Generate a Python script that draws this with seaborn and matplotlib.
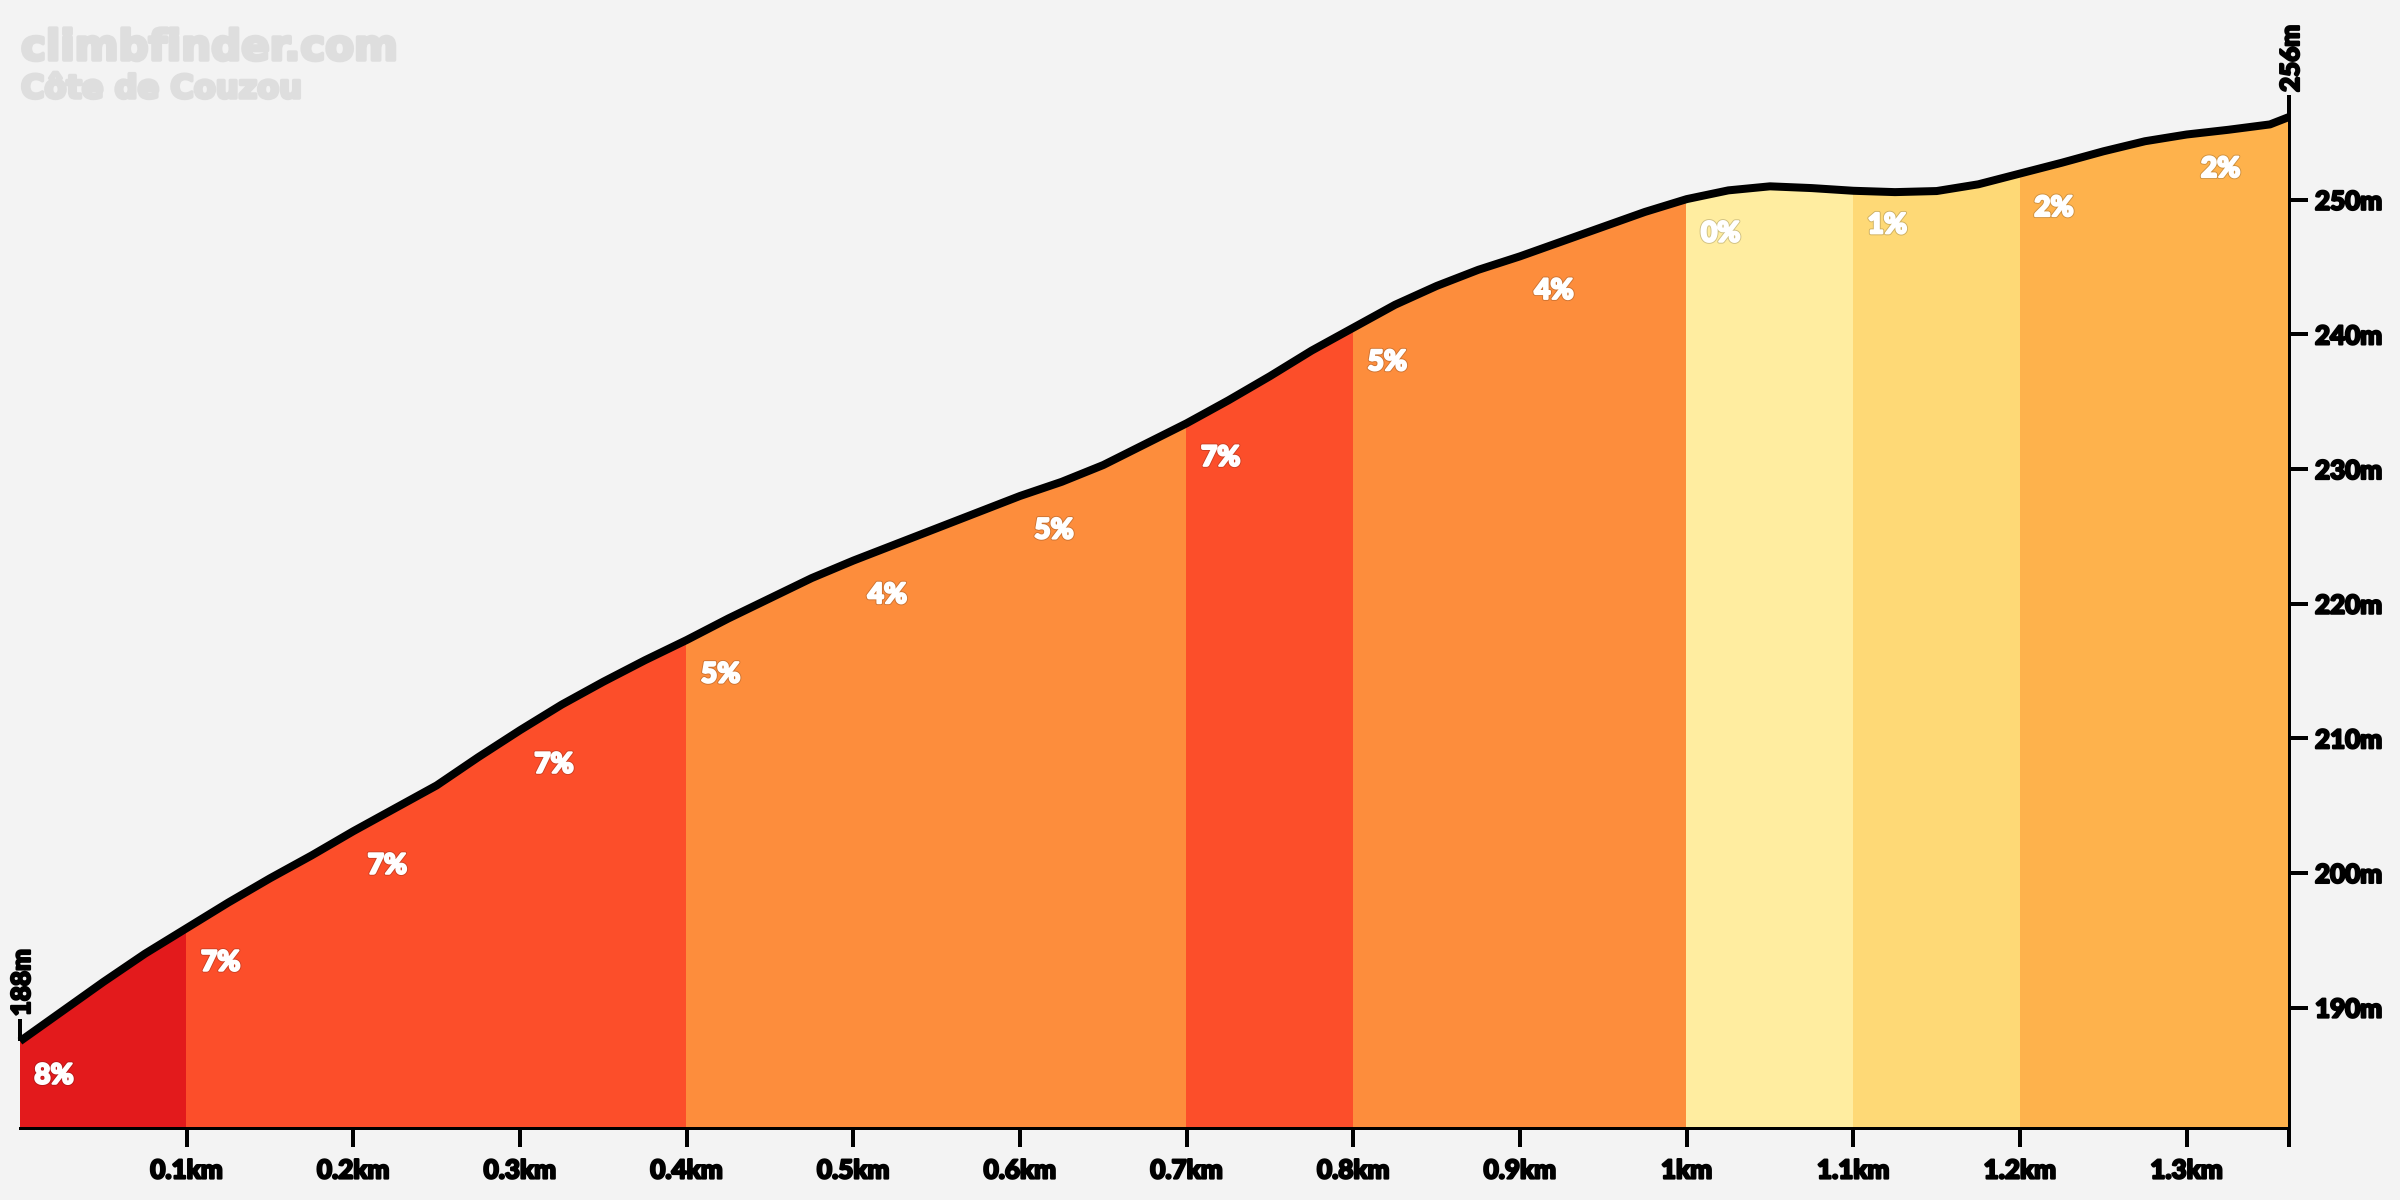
import numpy as np
import seaborn as sns
from matplotlib import pyplot as plt
from matplotlib import patheffects as pe

distance = [0, 0.025, 0.05, 0.075, 0.1, 0.125, 0.15, 0.175, 0.2, 0.225, 0.25, 0.275, 0.3, 0.325, 0.35, 0.375, 0.4,
            0.425, 0.45, 0.475, 0.5, 0.525, 0.55, 0.575, 0.6, 0.625, 0.65, 0.675, 0.7, 0.725, 0.75, 0.775, 0.8,
            0.825, 0.85, 0.875, 0.9, 0.925, 0.95, 0.975, 1.0, 1.025, 1.05, 1.075, 1.1, 1.125, 1.15, 1.175, 1.2,
            1.225, 1.25, 1.275, 1.3, 1.325, 1.35, 1.3614]
elevation = [187.5, 189.7, 191.9, 194.0, 195.9, 197.8, 199.6, 201.3, 203.1, 204.8, 206.5, 208.6, 210.6, 212.5, 214.2,
             215.8, 217.3, 218.9, 220.4, 221.9, 223.2, 224.4, 225.6, 226.8, 228.0, 229.05, 230.3, 231.85, 233.4,
             235.1, 236.9, 238.8, 240.5, 242.2, 243.6, 244.8, 245.8, 246.9, 248.0, 249.1, 250.05, 250.7, 251.0,
             250.87, 250.67, 250.57, 250.65, 251.15, 251.95, 252.75, 253.6, 254.35, 254.85, 255.2, 255.6, 256.15]

segment_edges = [0, 0.1, 0.2, 0.3, 0.4, 0.5, 0.6, 0.7, 0.8, 0.9, 1.0, 1.1, 1.2, 1.3, 1.3614]
gradients = [8, 7, 7, 7, 5, 4, 5, 7, 5, 4, 0, 1, 2, 2]
gradient_colors = {8: '#e31a1c', 7: '#fc4e2a', 5: '#fd8d3c', 4: '#fd8d3c', 2: '#feb24c', 1: '#fed976', 0: '#ffeda0'}

x_ticks = [0.1, 0.2, 0.3, 0.4, 0.5, 0.6, 0.7, 0.8, 0.9, 1.0, 1.1, 1.2, 1.3, 1.3614]
x_labels = ['0.1km', '0.2km', '0.3km', '0.4km', '0.5km', '0.6km', '0.7km', '0.8km', '0.9km', '1km', '1.1km', '1.2km',
            '1.3km', '']
y_ticks = [190, 200, 210, 220, 230, 240, 250]
y_labels = ['190m', '200m', '210m', '220m', '230m', '240m', '250m']
start_label = '188m'
end_label = '256m'
site_name = 'climbfinder.com'
climb_name = 'Côte de Couzou'

BG = '#f3f3f3'
FONT = 'Lato'
W, H = 2400, 1200


def px(p):
    return p * 72 / 200


sns.set_theme(style='white', rc={'axes.facecolor': BG, 'figure.facecolor': BG, 'font.family': FONT})

distance = np.array(distance)
elevation = np.array(elevation)

fig = plt.figure(figsize=(12, 6))
ax = fig.add_axes([20 / W, 1 - 1127.5 / H, (2289 - 20) / W, (1127.5 - 117) / H])

for i, grade in enumerate(gradients):
    mask = (distance >= segment_edges[i]) & (distance <= segment_edges[i + 1])
    ax.fill_between(distance[mask], elevation[mask], -1000, color=gradient_colors[grade], linewidth=0,
                    antialiased=False)

sns.lineplot(x=distance, y=elevation, color='black', linewidth=px(8), ax=ax, clip_on=False, zorder=4,
             solid_capstyle='butt', solid_joinstyle='round')

ax.set_xlim(0, 1.3614)
ax.set_ylim(181.09, 256.15)
ax.yaxis.tick_right()
ax.set_xticks(x_ticks)
ax.set_xticklabels(x_labels)
ax.set_yticks(y_ticks)
ax.set_yticklabels(y_labels)
ax.set_xlabel('')
ax.set_ylabel('')
ax.tick_params(axis='x', bottom=True, length=px(19), width=px(4), color='black', pad=px(12),
               labelsize=px(26), labelcolor='black')
ax.tick_params(axis='y', right=True, length=px(19), width=px(4), color='black', pad=px(7),
               labelsize=px(26), labelcolor='black')

thicken = [pe.withStroke(linewidth=px(2.2), foreground='black')]
for lab in ax.get_xticklabels() + ax.get_yticklabels():
    lab.set_fontweight(900)
    lab.set_path_effects(thicken)

for side in ['left', 'top']:
    ax.spines[side].set_visible(False)
for side in ['right', 'bottom']:
    ax.spines[side].set_color('black')
    ax.spines[side].set_linewidth(px(3))

# end ticks and height labels
for xv, yv, text in [(distance[0], elevation[0], start_label), (distance[-1], elevation[-1], end_label)]:
    ax.plot(xv, yv, marker=2, markersize=px(22), markeredgewidth=px(4), color='black', clip_on=False, zorder=5)
    ax.annotate(text, xy=(xv, yv), xytext=(px(2), px(25)), textcoords='offset points', rotation=90,
                ha='center', va='bottom', fontsize=px(26), fontweight=900, color='black',
                annotation_clip=False, path_effects=thicken)

# gradient labels, hung under the profile at the start of each block
shadow = [pe.withStroke(linewidth=px(4), foreground='#00000030'), pe.withStroke(linewidth=px(2.2), foreground='white')]
for i, grade in enumerate(gradients):
    start = segment_edges[i]
    height = elevation[np.argmin(np.abs(distance - start))]
    ax.annotate(f'{grade}%', xy=(start, height), xytext=(px(34), -px(34.5)), textcoords='offset points',
                ha='center', va='center', fontsize=px(28), fontweight=900, color='white', zorder=6,
                path_effects=shadow)

# watermark
mark = [pe.withStroke(linewidth=px(3.5), foreground='#dedede')]
fig.text(21 / W, 1 - 60 / H, site_name, fontsize=px(42), fontweight='bold', family='DejaVu Sans', color='#dedede',
         ha='left', va='baseline', path_effects=mark)
fig.text(21 / W, 1 - 98 / H, climb_name, fontsize=px(32), fontweight='bold', family='DejaVu Sans', color='#dedede',
         ha='left', va='baseline', path_effects=mark)

fig.savefig('out.png', dpi=200, facecolor=BG)
